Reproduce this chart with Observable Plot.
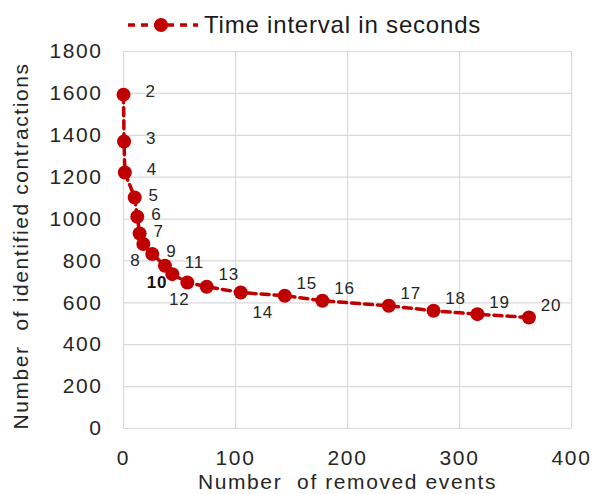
<!DOCTYPE html>
<html><head><meta charset="utf-8">
<script src="https://cdn.jsdelivr.net/npm/d3@7"></script>
<script src="https://cdn.jsdelivr.net/npm/@observablehq/plot@0.6"></script>
<style>
body{margin:0;background:#fff;}
#wrap{position:relative;width:595px;height:494px;font-family:"Liberation Sans",Arial,sans-serif;}
#legend{position:absolute;left:126px;top:11px;display:flex;align-items:center;font-size:24px;color:#1a1a1a;letter-spacing:0.8px;line-height:28px;}
#legend svg{display:block;}
#chart{position:absolute;left:0;top:0;}
</style></head><body>
<div id="wrap"><div id="chart"></div><div id="legend"></div></div>
<script>
// Time interval (seconds) for each point
const intervals = [2, 3, 4, 5, 6, 7, 8, 9, 10, 11, 12, 13, 14, 15, 16, 17, 18, 19, 20];
// Number of removed events (x)
const removedEvents = [0, 0.5, 1.2, 10, 12.3, 14.4, 17.7, 25.7, 37, 43.6, 57, 74.3, 104.7, 144, 177.6, 236.9, 276.8, 316, 362];
// Number of identified contractions (y)
const contractions = [1594, 1370, 1222, 1103, 1011, 931, 881, 833, 777, 737, 697, 677, 649, 634, 610, 586, 562, 546, 530];
// Label placement code for each point
const labelPlacement = ["R","R","R","r","r","r","B","r","B","UR","B","UR","BR","UR","UR","UR","UR","UR","UR"];
const highlightedInterval = 10;
const xTicks = [0, 100, 200, 300, 400];
const yTicks = [0, 200, 400, 600, 800, 1000, 1200, 1400, 1600, 1800];
const seriesName = "Time interval in seconds";
const xTitle = "Number\u00a0 of removed events";
const yTitle = "Number\u00a0 of identified contractions";

const red = "#c00000";
const ink = "#262626";
const grid = "#d9d9d9";
const offsets = {R: [27, -3], r: [19, -2], B: [-8, 17], UR: [22, -12], BR: [22, 20]};

const data = intervals.map((t, i) => ({interval: t, removed: removedEvents[i], count: contractions[i], placement: labelPlacement[i]}));

const labelMarks = [];
for (const [code, [dx, dy]] of Object.entries(offsets)) {
  labelMarks.push(Plot.text(data.filter(d => d.placement === code && d.interval !== highlightedInterval), {
    x: "removed", y: "count", text: d => String(d.interval), dx, dy, fill: ink, fontSize: 17, textAnchor: "middle"
  }));
  labelMarks.push(Plot.text(data.filter(d => d.placement === code && d.interval === highlightedInterval), {
    x: "removed", y: "count", text: d => String(d.interval), dx, dy, fill: "#111", fontSize: 17, fontWeight: "bold", textAnchor: "middle"
  }));
}

const chart = Plot.plot({
  width: 595, height: 494,
  marginLeft: 123, marginRight: 24, marginTop: 51, marginBottom: 66,
  style: "font-family:'Liberation Sans',Arial,sans-serif;font-size:21px;letter-spacing:1.6px;color:#262626;background:transparent;overflow:visible;",
  x: {domain: [0, 400]},
  y: {domain: [0, 1800]},
  marks: [
    Plot.gridX(xTicks, {stroke: grid, strokeOpacity: 1, strokeWidth: 1.2}),
    Plot.gridY(yTicks, {stroke: grid, strokeOpacity: 1, strokeWidth: 1.2}),
    Plot.axisX(xTicks, {tickSize: 0, tickPadding: 22, fontSize: 21, fill: ink, label: null}),
    Plot.axisY(yTicks, {tickSize: 0, tickPadding: 21, fontSize: 21, fill: ink, tickFormat: d => String(d), label: null}),
    Plot.text([xTitle], {text: d => d, frameAnchor: "bottom", lineAnchor: "middle", dy: 54, fontSize: 21, fill: ink, textAnchor: "middle"}),
    Plot.text([yTitle], {text: d => d, frameAnchor: "left", lineAnchor: "middle", rotate: -90, dx: -102, dy: 6, fontSize: 21, fill: ink, textAnchor: "middle"}),
    Plot.line(data, {x: "removed", y: "count", stroke: red, strokeWidth: 3.5, strokeDasharray: "8,5"}),
    Plot.dot(data, {x: "removed", y: "count", r: 7, fill: red, stroke: "none"}),
    ...labelMarks
  ]
});
// point labels use tighter letter spacing than axis texts
d3.select(chart).selectAll('g[aria-label="text"] text').filter(function() { return /^\d+$/.test(this.textContent); })
  .style("letter-spacing", "0.8px");
document.getElementById("chart").appendChild(chart);

// Legend
const legend = d3.select("#legend");
const ls = legend.append("svg").attr("width", 74).attr("height", 28);
ls.append("line").attr("x1", 2).attr("x2", 72).attr("y1", 14).attr("y2", 14)
  .attr("stroke", red).attr("stroke-width", 3.5).attr("stroke-dasharray", "7,6");
ls.append("circle").attr("cx", 35).attr("cy", 14).attr("r", 7).attr("fill", red);
legend.append("span").style("margin-left", "4px").text(seriesName);
</script>
</body></html>
